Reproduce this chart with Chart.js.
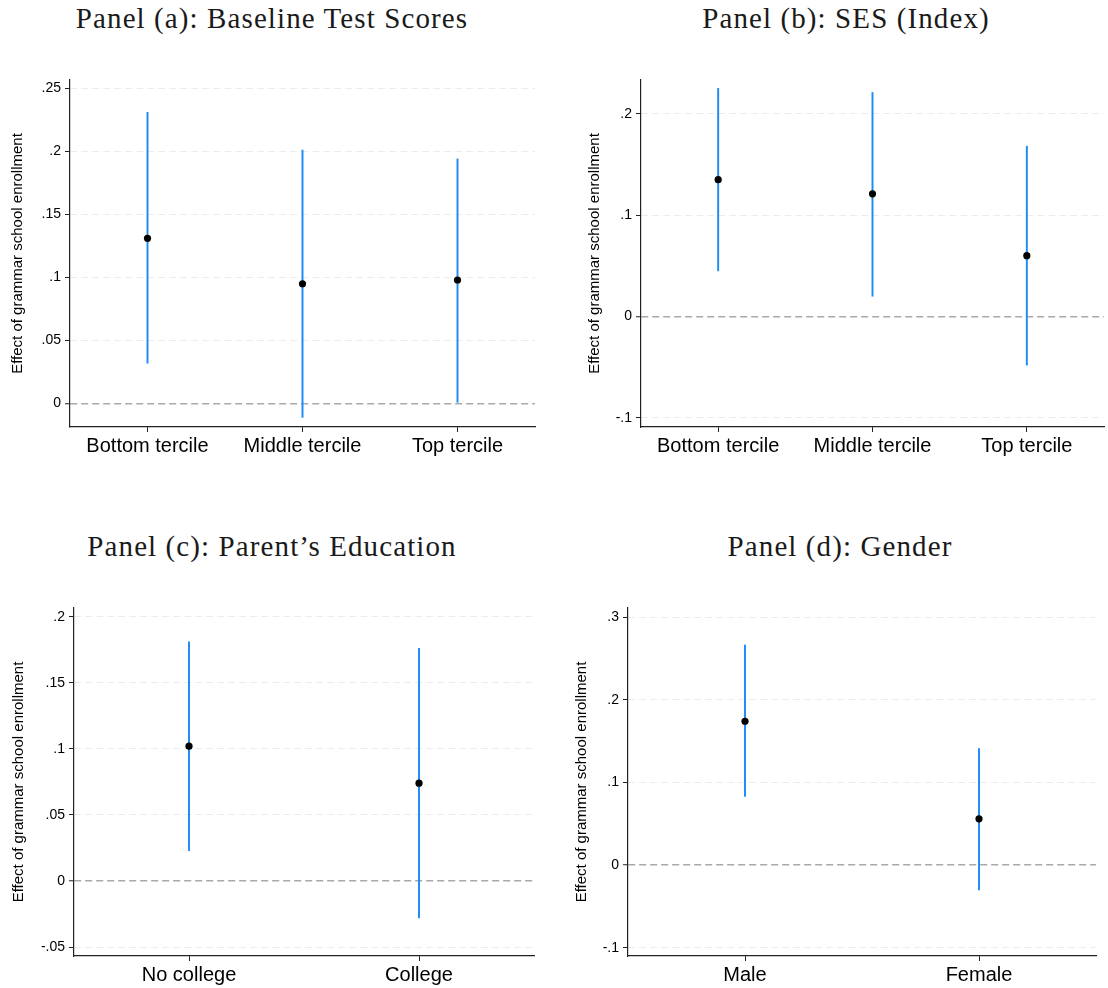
<!DOCTYPE html>
<html>
<head>
<meta charset="utf-8">
<title>Heterogeneous effects of grammar school enrollment</title>
<script src="https://cdn.jsdelivr.net/npm/chart.js@4.4.1/dist/chart.umd.min.js"></script>
<style>
  html, body { margin: 0; padding: 0; background: #fff; }
  #wrap { position: relative; width: 1108px; height: 988px; overflow: hidden; }
  .panel-title {
    position: absolute; height: 29px; line-height: 29px;
    font-family: "Liberation Serif", "Times New Roman", serif;
    font-size: 29px; letter-spacing: 1.1px; color: #1a1a1a;
    text-align: center; white-space: nowrap;
  }
  canvas { position: absolute; }
</style>
</head>
<body>
<div id="wrap">
  <div class="panel-title" style="left:0;top:4px;width:544px;">Panel (a): Baseline Test Scores</div>
  <div class="panel-title" style="left:572px;top:4px;width:548px;">Panel (b): SES (Index)</div>
  <div class="panel-title" style="left:0;top:532px;width:544px;">Panel (c): Parent’s Education</div>
  <div class="panel-title" style="left:568px;top:532px;width:544px;">Panel (d): Gender</div>

  <canvas id="panelA" width="554" height="410" style="left:0;top:60px;"></canvas>
  <canvas id="panelB" width="554" height="410" style="left:554px;top:60px;"></canvas>
  <canvas id="panelC" width="554" height="400" style="left:0;top:588px;"></canvas>
  <canvas id="panelD" width="554" height="400" style="left:554px;top:588px;"></canvas>
</div>

<script>
// Point estimates and 95% confidence bounds by subgroup
const tercileLabels = ["Bottom tercile", "Middle tercile", "Top tercile"];
const scoreEst  = [0.131, 0.095, 0.098];
const scoreLow  = [0.032, -0.011, 0.001];
const scoreHigh = [0.231, 0.201, 0.194];

const sesEst  = [0.135, 0.121, 0.060];
const sesLow  = [0.045, 0.020, -0.048];
const sesHigh = [0.225, 0.221, 0.168];

const educLabels = ["No college", "College"];
const educEst  = [0.102, 0.074];
const educLow  = [0.023, -0.028];
const educHigh = [0.181, 0.176];

const genderLabels = ["Male", "Female"];
const genderEst  = [0.174, 0.056];
const genderLow  = [0.083, -0.030];
const genderHigh = [0.266, 0.141];

// y axis ranges and tick steps
const scoreAxis  = { min: -0.0186, max: 0.2566, step: 0.05 };
const sesAxis    = { min: -0.109,  max: 0.2333, step: 0.1 };
const educAxis   = { min: -0.0568, max: 0.2066, step: 0.05 };
const genderAxis = { min: -0.110,  max: 0.311,  step: 0.1 };

const yTitle = "Effect of grammar school enrollment";
const sans = "'Liberation Sans', Arial, Helvetica, sans-serif";

// Stata style tick labels: ".25", "-.1", "0"
function stataNum(v) {
    const r = Math.round(v * 1000) / 1000;
    if (r === 0) return "0";
    return String(r).replace("0.", ".");
}

function drawPanel(canvasId, labels, est, low, high, axis, box) {
    const ctx = document.getElementById(canvasId).getContext("2d");
    const ci = labels.map((_, i) => [low[i], high[i]]);

    return new Chart(ctx, {
        type: "bar",
        data: {
            labels: labels,
            datasets: [
                {
                    type: "line",
                    data: est,
                    showLine: false,
                    pointRadius: 3.6,
                    pointBackgroundColor: "#000",
                    pointBorderWidth: 0,
                    order: 0
                },
                {
                    type: "bar",
                    data: ci,
                    backgroundColor: "#1e8cf5",
                    borderWidth: 0,
                    barThickness: 1.3,
                    order: 1
                }
            ]
        },
        options: {
            responsive: false,
            animation: false,
            devicePixelRatio: 1,
            layout: { padding: { left: 0, top: 20, right: box.right, bottom: 0 } },
            plugins: { legend: { display: false }, tooltip: { enabled: false } },
            scales: {
                x: {
                    offset: true,
                    grid: {
                        offset: false,
                        drawOnChartArea: false,
                        drawTicks: true,
                        tickLength: 5,
                        tickColor: "#222",
                        tickWidth: 1
                    },
                    border: { color: "#222", width: 1.2 },
                    ticks: {
                        color: "#000",
                        padding: 2,
                        maxRotation: 0,
                        autoSkip: false,
                        font: { family: sans, size: 20 }
                    },
                    afterFit: function(scale) { scale.height = box.xHeight; }
                },
                y: {
                    min: axis.min,
                    max: axis.max,
                    grid: {
                        color: c => (c.tick && c.tick.value === 0) ? "#a9a9a9" : "#ececec",
                        lineWidth: c => (c.tick && c.tick.value === 0) ? 1.5 : 1,
                        tickColor: "#222",
                        tickLength: 5,
                        tickWidth: 1,
                        tickBorderDash: []
                    },
                    border: { color: "#222", width: 1.2, dash: [7, 4] },
                    ticks: {
                        stepSize: axis.step,
                        includeBounds: false,
                        padding: 4,
                        color: "#000",
                        font: { family: sans, size: 14 },
                        callback: v => stataNum(v)
                    },
                    title: {
                        display: true,
                        text: yTitle,
                        color: "#000",
                        font: { family: sans, size: 15 },
                        padding: { top: box.titlePad, bottom: 0 }
                    },
                    afterFit: function(scale) { scale.width = box.left; }
                }
            }
        }
    });
}

drawPanel("panelA", tercileLabels, scoreEst, scoreLow, scoreHigh, scoreAxis,
    { left: 70, right: 19, xHeight: 43, titlePad: 9 });
drawPanel("panelB", tercileLabels, sesEst, sesLow, sesHigh, sesAxis,
    { left: 87, right: 2, xHeight: 43, titlePad: 32 });
drawPanel("panelC", educLabels, educEst, educLow, educHigh, educAxis,
    { left: 74, right: 20, xHeight: 32, titlePad: 10 });
drawPanel("panelD", genderLabels, genderEst, genderLow, genderHigh, genderAxis,
    { left: 74, right: 12, xHeight: 32, titlePad: 19 });
</script>
</body>
</html>
